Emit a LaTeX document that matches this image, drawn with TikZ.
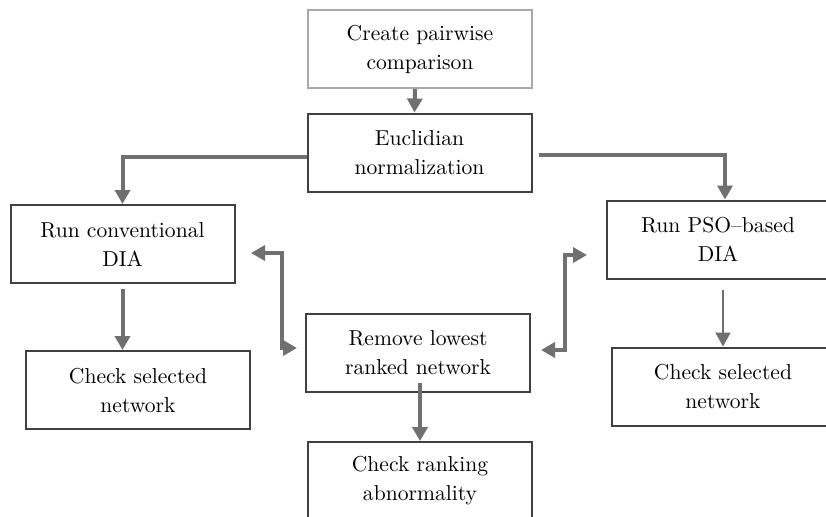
\documentclass[tikz,border=0pt]{standalone}
\usetikzlibrary{arrows.meta}
\definecolor{linegray}{HTML}{707070}
\definecolor{boxgray}{HTML}{404040}
\definecolor{lightgray}{HTML}{A8A8A8}
\begin{document}
\begin{tikzpicture}[x=0.5pt,y=-0.5pt,
 box/.style={rectangle,draw=boxgray,line width=1pt,minimum width=112pt,
   minimum height=39pt,align=center,inner sep=0pt,
   font=\fontsize{10.8}{14.5}\selectfont},
 link/.style={draw=linegray,line width=2pt,
   -{Triangle[length=7pt,width=7.5pt]}},
 thinlink/.style={link,line width=1pt}]

  \useasboundingbox (0,0) rectangle (826,516);

  \node[box,draw=lightgray] (create) at (420,49) {Create pairwise\\comparison};
  \node[box] (euclid) at (419.5,152.5) {Euclidian\\normalization};
  \node[box] (runconv) at (122.5,244) {Run conventional\\DIA};
  \node[box] (checkL) at (138,390) {Check selected\\network};
  \node[box] (remove) at (418,353) {Remove lowest\\ranked network};
  \node[box] (checkrank) at (420,481) {Check ranking\\abnormality};
  \node[box,minimum width=111pt] (runpso) at (718,239.5) {Run PSO--based\\DIA};
  \node[box,minimum width=111pt] (checkR) at (723,386.5) {Check selected\\network};

  \coordinate (tipA) at ([xshift=7.75pt,yshift=-4.5pt]runconv.east);
  \coordinate (tipB) at ([xshift=-4pt,yshift=2.5pt]remove.west);
  \coordinate (tipC) at ([xshift=5pt,yshift=1.5pt]remove.east);
  \coordinate (tipD) at ([xshift=-9.5pt,yshift=-7.75pt]runpso.west);

  \draw[link] ([xshift=-2.5pt]create.south) -- ([xshift=-2.5pt]euclid.north);
  \draw[link] ([yshift=-2pt]euclid.west) -| (runconv.north);
  \draw[link] ([xshift=3pt,yshift=-1pt]euclid.east) -| ([xshift=3.5pt]runpso.north);
  \draw[link] ([yshift=-2.5pt]runconv.south) -- (runconv.south |- checkL.north);
  \draw[link,{Triangle[length=7pt,width=7.5pt]}-{Triangle[length=7pt,width=7.5pt]}]
     (tipA) -- ++(31,0) |- (tipB);
  \draw[link,{Triangle[length=7pt,width=7.5pt]}-{Triangle[length=7pt,width=7.5pt]}]
     (tipC) -- ++(24,0) |- (tipD);
  \draw[link] ([xshift=1pt,yshift=5pt]remove.south) -- (checkrank.north);
  \draw[thinlink] ([xshift=2.5pt,yshift=-5pt]runpso.south) -- (checkR.north);
\end{tikzpicture}
\end{document}
